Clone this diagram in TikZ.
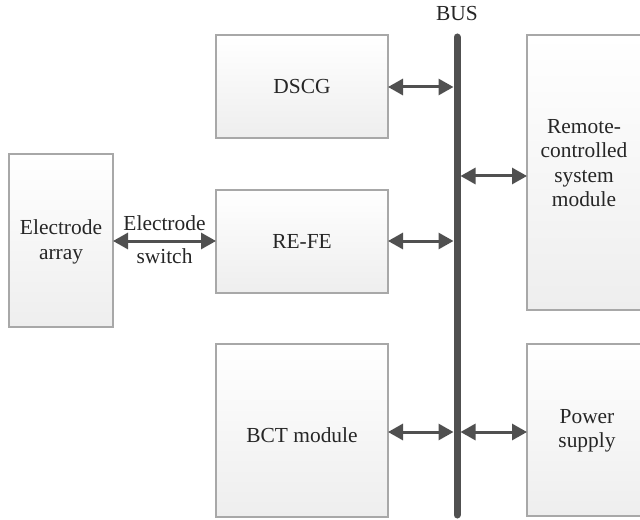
\documentclass[tikz,border=0pt]{standalone}
\usepackage{fontspec}
\setmainfont{Liberation Serif}
\usetikzlibrary{arrows.meta}
\definecolor{boxline}{HTML}{A8A8A8}
\definecolor{boxbot}{HTML}{EEEEEE}
\definecolor{arrowc}{HTML}{505050}
\definecolor{txt}{HTML}{262626}
\tikzset{
  blk/.style={draw=boxline, line width=1.2bp, top color=white, bottom color=boxbot},
  lbl/.style={text=txt, font=\fontsize{21.5}{24.5}\selectfont, align=center, inner sep=0pt},
  conn/.style={draw=arrowc, line width=3bp, {Triangle[length=15bp,width=16bp]}-{Triangle[length=15bp,width=16bp]}},
  bus/.style={draw=arrowc, line width=7bp, line cap=round}
}
\begin{document}
\begin{tikzpicture}[x=1bp,y=-1bp]
\clip (0,0) rectangle (640,520);
\fill[white] (0,0) rectangle (640,520);
% boxes
\path[blk] (216,35) rectangle (388,138);
\path[blk] (216,190) rectangle (388,293);
\path[blk] (216,344) rectangle (388,517);
\path[blk] (9,154) rectangle (113,327);
\path[blk] (527,35) rectangle (646,310);
\path[blk] (527,344) rectangle (646,516);
% anchor coordinates
\coordinate (dscgR) at (388,87);
\coordinate (refeR) at (388,241);
\coordinate (refeL) at (216,241);
\coordinate (bctR) at (388,432);
\coordinate (eaR) at (113,241);
\coordinate (remL) at (527,176);
\coordinate (pwrL) at (527,432);
\coordinate (bustop) at (457,37);
\coordinate (busbot) at (457,515);
% labels
\node[lbl] (dscg) at (302,87) {DSCG};
\node[lbl] (refe) at (302,241) {RE-FE};
\node[lbl] (bct) at (302,435) {BCT module};
\node[lbl] (ea) at (61,242) {Electrode\\array};
\node[lbl] (rem) at (584,163) {Remote-\\controlled\\system\\module};
\node[lbl] (pwr) at (587,431) {Power\\supply};
\node[lbl] (buslbl) at (457,14) {BUS};
% bus
\draw[bus] (bustop) -- (busbot);
\coordinate (b1) at (453.5,87);
\coordinate (b2) at (453.5,241);
\coordinate (b3) at (453.5,432);
\coordinate (b4) at (460.5,176);
\coordinate (b5) at (460.5,432);
% connectors
\draw[conn] (dscgR) -- (b1);
\draw[conn] (refeR) -- (b2);
\draw[conn] (bctR) -- (b3);
\draw[conn] (b4) -- (remL);
\draw[conn] (b5) -- (pwrL);
\draw[conn] (eaR) -- node[lbl, above=9bp] {Electrode} node[lbl, below=6bp] {switch} (refeL);
\end{tikzpicture}
\end{document}
